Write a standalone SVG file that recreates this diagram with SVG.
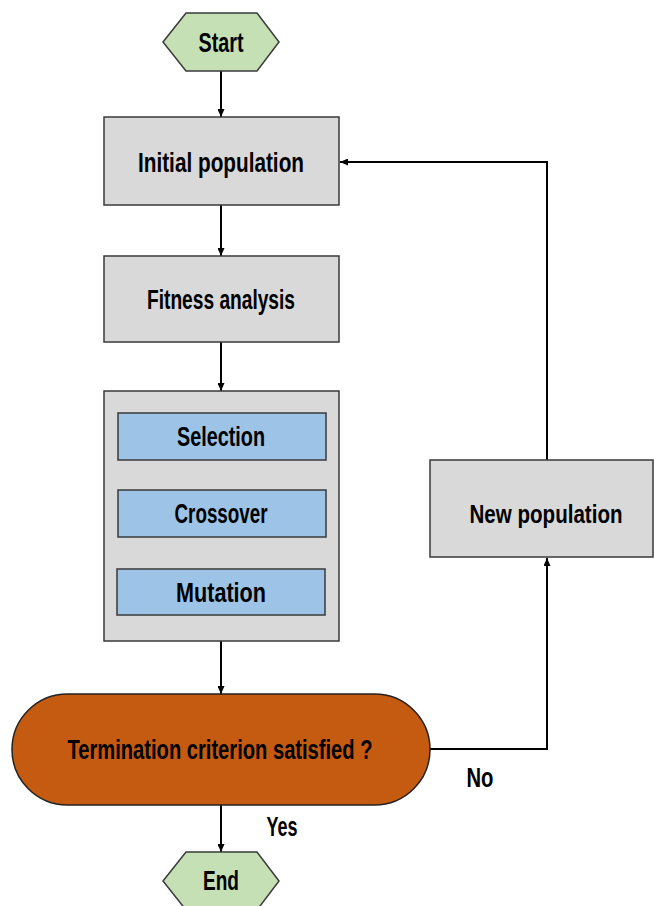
<svg xmlns="http://www.w3.org/2000/svg" width="654" height="906" viewBox="0 0 654 906">
<defs>
<style>
.box{fill:#d9d9d9;stroke:#3a3a3a;stroke-width:1.5}
.blue{fill:#9dc3e6;stroke:#3a3a3a;stroke-width:1.5}
.hex{fill:#c5e0b4;stroke:#3a3a3a;stroke-width:1.5}
.term{fill:#c55a11;stroke:#222;stroke-width:1.5}
.t{font-family:"Liberation Sans",Arial,sans-serif;font-weight:bold;font-size:28px;fill:#000;text-anchor:middle}
.lbl{font-family:"Liberation Sans",Arial,sans-serif;font-weight:bold;font-size:27px;fill:#000;text-anchor:middle}
.c{fill:none;stroke:#000;stroke-width:2}
</style>
<marker id="ah" viewBox="0 0 10 10" refX="10" refY="5" markerWidth="8" markerHeight="7" orient="auto" markerUnits="userSpaceOnUse" preserveAspectRatio="none">
<path d="M0,0 L10,5 L0,10 z" fill="#000"/>
</marker>
</defs>
<rect width="654" height="906" fill="#fff"/>
<g id="connectors">
<path class="c" d="M221,71 V117" marker-end="url(#ah)"/>
<path class="c" d="M221,205 V256" marker-end="url(#ah)"/>
<path class="c" d="M221,342 V391" marker-end="url(#ah)"/>
<path class="c" d="M221,641 V694" marker-end="url(#ah)"/>
<path class="c" d="M221,805 V852" marker-end="url(#ah)"/>
<path class="c" d="M430,749 H547 V558" marker-end="url(#ah)"/>
<path class="c" d="M547,460 V162 H340" marker-end="url(#ah)"/>
<text class="lbl" x="480" y="787" textLength="27" lengthAdjust="spacingAndGlyphs">No</text>
<text class="lbl" x="282" y="836" textLength="31" lengthAdjust="spacingAndGlyphs">Yes</text>
</g>
<g id="start">
<polygon class="hex" points="163,42 186,13 257,13 279,42 257,71 186,71"/>
<text class="t" x="221" y="52" textLength="45" lengthAdjust="spacingAndGlyphs">Start</text>
</g>
<g id="initial">
<rect class="box" x="104" y="117" width="235" height="88"/>
<text class="t" x="221" y="172" textLength="166" lengthAdjust="spacingAndGlyphs">Initial population</text>
</g>
<g id="fitness">
<rect class="box" x="104" y="256" width="235" height="86"/>
<text class="t" x="221" y="309" textLength="148" lengthAdjust="spacingAndGlyphs">Fitness analysis</text>
</g>
<g id="operators">
<rect class="box" x="104" y="391" width="235" height="250"/>
</g>
<g id="selection">
<rect class="blue" x="118" y="413" width="208" height="47"/>
<text class="t" x="221" y="446" textLength="88" lengthAdjust="spacingAndGlyphs">Selection</text>
</g>
<g id="crossover">
<rect class="blue" x="118" y="490" width="208" height="47"/>
<text class="t" x="221" y="523" textLength="93" lengthAdjust="spacingAndGlyphs">Crossover</text>
</g>
<g id="mutation">
<rect class="blue" x="117" y="569" width="208" height="46"/>
<text class="t" x="221" y="602" textLength="90" lengthAdjust="spacingAndGlyphs">Mutation</text>
</g>
<g id="termination">
<rect class="term" x="12" y="694" width="418" height="111" rx="55.5" ry="55.5"/>
<text class="t" x="220" y="759" textLength="305" lengthAdjust="spacingAndGlyphs">Termination criterion satisfied ?</text>
</g>
<g id="newpop">
<rect class="box" x="430" y="460" width="223" height="97"/>
<text class="t" x="546" y="523" style="font-size:26px" textLength="153" lengthAdjust="spacingAndGlyphs">New population</text>
</g>
<g id="end">
<polygon class="hex" points="163,881 186,852 257,852 279,881 257,910 186,910"/>
<text class="t" x="221" y="890" textLength="36" lengthAdjust="spacingAndGlyphs">End</text>
</g>
</svg>
